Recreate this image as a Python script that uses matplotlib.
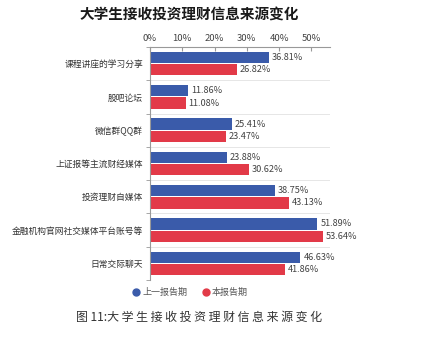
import matplotlib
matplotlib.use("Agg")
import matplotlib.pyplot as plt
import numpy as np
from matplotlib.lines import Line2D

plt.rcParams['font.family'] = ['Noto Sans CJK SC', 'DejaVu Sans']

title = "大学生接收投资理财信息来源变化"
caption = "图 11:大学生接收投资理财信息来源变化"
categories = ["课程讲座的学习分享", "股吧论坛", "微信群QQ群", "上证报等主流财经媒体",
              "投资理财自媒体", "金融机构官网社交媒体平台账号等", "日常交际聊天"]
prev_vals = [36.81, 11.86, 25.41, 23.88, 38.75, 51.89, 46.63]
curr_vals = [26.82, 11.08, 23.47, 30.62, 43.13, 53.64, 41.86]
series_names = ["上一报告期", "本报告期"]
xticks = [0, 10, 20, 30, 40, 50]
xtick_labels = ["0%", "10%", "20%", "30%", "40%", "50%"]

blue = "#3A5BAA"
red = "#E23A48"

fig = plt.figure(figsize=(4.27, 3.41), dpi=100)
fig.patch.set_facecolor("white")
ax = fig.add_axes([150/427, 1-280/341, 180/427, 233/341])

y = np.arange(len(categories))
h = 0.34
off = 0.185
ax.barh(y - off, prev_vals, height=h, color=blue, edgecolor="none")
ax.barh(y + off, curr_vals, height=h, color=red, edgecolor="none")

for yi, v in zip(y, prev_vals):
    ax.text(v + 0.9, yi - off, f"{v:.2f}%", va="center", ha="left", fontsize=6.6, color="#444444")
for yi, v in zip(y, curr_vals):
    ax.text(v + 0.9, yi + off, f"{v:.2f}%", va="center", ha="left", fontsize=6.6, color="#444444")

ax.set_ylim(len(categories) - 0.5, -0.5)
ax.set_xlim(0, 55.8)

ax.xaxis.tick_top()
ax.set_xticks(xticks)
ax.set_xticklabels(xtick_labels, fontsize=6.8, color="#444444")
ax.tick_params(axis="x", direction="in", length=3, color="#999999", pad=3)

ax.set_yticks(y)
ax.set_yticklabels(categories, fontsize=6.3, color="#333333")
ax.tick_params(axis="y", which="major", length=0, pad=5)
ax.set_yticks(np.arange(len(categories) + 1) - 0.5, minor=True)
ax.tick_params(axis="y", which="minor", length=3, color="#999999", direction="out")

for b in np.arange(1, len(categories)) - 0.5:
    ax.axhline(b, color="#E6E6E6", linewidth=0.7, zorder=0)

for s in ["right", "bottom"]:
    ax.spines[s].set_visible(False)
for s in ["top", "left"]:
    ax.spines[s].set_color("#999999")
    ax.spines[s].set_linewidth(0.8)

handles = [Line2D([], [], marker="o", linestyle="none", color=blue, markersize=5),
           Line2D([], [], marker="o", linestyle="none", color=red, markersize=5)]
fig.legend(handles, series_names, loc="center", bbox_to_anchor=(190/427, 1-292.7/341),
           ncol=2, frameon=False, fontsize=6.5, labelcolor="#555555",
           handletextpad=0.2, columnspacing=1.5, handlelength=1.0)

fig.text(189/427, 1-15/341, title, ha="center", va="center", fontsize=10.5,
         fontweight="bold", color="#1a1a1a")

fig.text(199/427, 1-317/341, "图 11:" + " ".join(list(caption[5:])),
         ha="center", va="center", fontsize=8.6, color="#333333")

fig.savefig("out.png", dpi=100, facecolor="white")
